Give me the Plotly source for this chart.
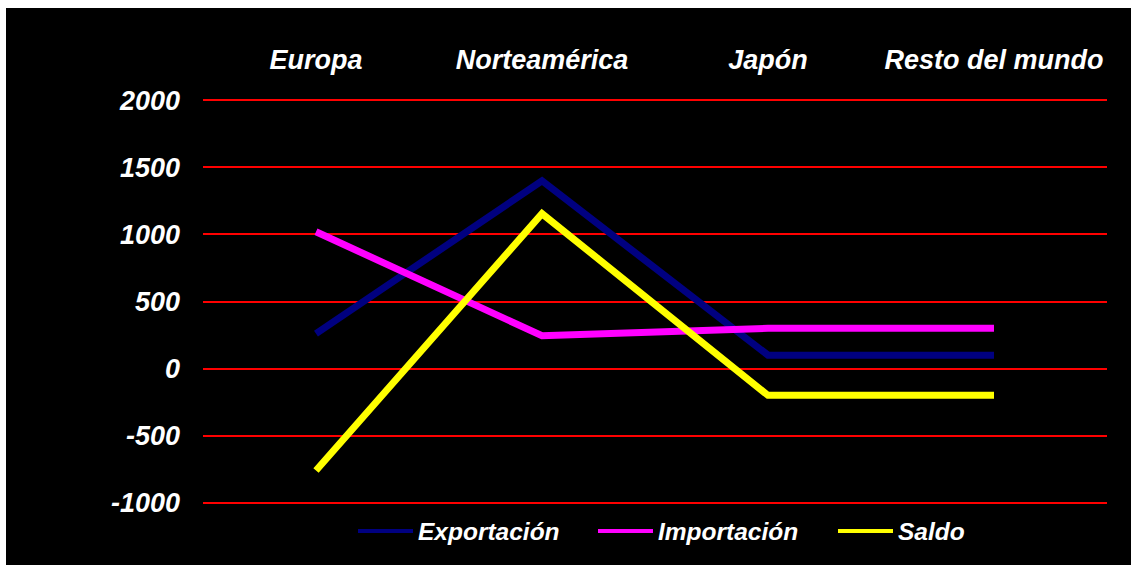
import plotly.graph_objects as go

categories = ["Europa", "Norteamérica", "Japón", "Resto del mundo"]
exportacion = [260, 1400, 100, 100]
importacion = [1020, 245, 300, 300]
saldo = [-760, 1155, -200, -200]
y_ticks = [-1000, -500, 0, 500, 1000, 1500, 2000]
y_tick_text = ["-1000", "-500", "0", "500", "1000", "1500", "2000"]

W, H = 1131, 565
ML, MR, MT, MB = 203, 24, 99, 61
pw = W - ML - MR
ph = H - MT - MB

font = dict(family="Liberation Sans, Arial", color="white", size=27, weight="bold", style="italic")
legend_font = dict(font, size=24.5)

fig = go.Figure()
series = [("Exportación", exportacion, "#000080"),
          ("Importación", importacion, "#FF00FF"),
          ("Saldo", saldo, "#FFFF00")]
for name, vals, col in series:
    fig.add_trace(go.Scatter(x=categories, y=vals, name=name, mode="lines",
                             legendgroup=name, showlegend=False,
                             line=dict(color=col, width=7)))
# legend entries (thinner swatches, as in the original legend)
for name, vals, col in series:
    fig.add_trace(go.Scatter(x=[None], y=[None], name=name, mode="lines",
                             legendgroup=name, showlegend=True,
                             line=dict(color=col, width=4)))

# black panel with thin white frame at top/left
fig.add_shape(type="rect", xref="paper", yref="paper", layer="below",
              x0=(6 - ML) / pw, x1=(W + 10 - ML) / pw,
              y0=-(MB + 10) / ph, y1=1 + (MT - 8) / ph,
              fillcolor="black", line=dict(width=0))

fig.update_layout(
    width=W, height=H,
    margin=dict(l=ML, r=MR, t=MT, b=MB),
    paper_bgcolor="white", plot_bgcolor="black",
    font=font,
    showlegend=True,
    legend=dict(orientation="h", x=(353 - ML) / pw, xanchor="left",
                y=-(531 - (MT + ph)) / ph, yanchor="middle",
                bgcolor="rgba(0,0,0,0)", font=legend_font, itemwidth=55,
                entrywidth=170, entrywidthmode="pixels"),
    xaxis=dict(side="top", type="category", range=[-0.5, 3.5], showgrid=False,
               zeroline=False, showline=False, tickfont=font, ticks="",
               ticklabelstandoff=24),
    yaxis=dict(range=[-1010, 2010], tickvals=y_ticks, ticktext=y_tick_text,
               showgrid=True, gridcolor="#FF0000",
               gridwidth=2, zeroline=False, showline=False, tickfont=font,
               ticks="", ticklabelstandoff=22),
)

fig.write_html("out.html")
